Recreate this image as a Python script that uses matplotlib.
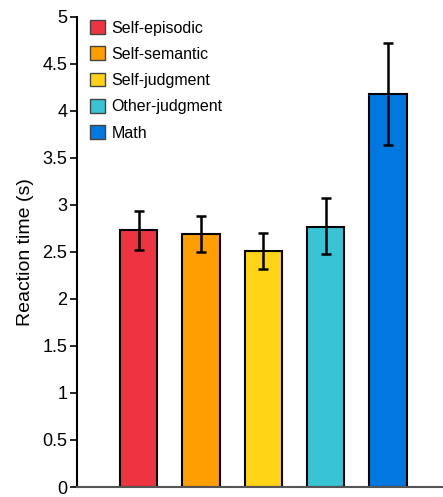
import numpy as np
import matplotlib
matplotlib.use("Agg")
import matplotlib.pyplot as plt
from matplotlib.patches import Patch

plt.rcParams['font.family'] = ['Liberation Sans', 'DejaVu Sans']

# данні
conditions = ['Self-episodic', 'Self-semantic', 'Self-judgment', 'Other-judgment', 'Math']
rt_mean = [2.73, 2.69, 2.51, 2.77, 4.18]
err_low = [2.52, 2.50, 2.32, 2.48, 3.64]
err_high = [2.94, 2.88, 2.70, 3.07, 4.72]
colors = ['#EE3440', '#FF9E00', '#FFD416', '#38C4D4', '#0078E0']

x = np.arange(len(conditions))
yerr = [np.array(rt_mean) - np.array(err_low), np.array(err_high) - np.array(rt_mean)]

fig = plt.figure(figsize=(4.43, 4.97), dpi=100)
ax = fig.add_axes([0.174, 0.0201, 0.826, 0.946])

ax.bar(x, rt_mean, width=0.6, color=colors, edgecolor='black', linewidth=1.5, zorder=2)
ax.errorbar(x, rt_mean, yerr=yerr, fmt='none', ecolor='black', elinewidth=1.8,
            capsize=3.5, capthick=1.8, zorder=3)

ax.set_xlim(-0.985, 4.88)
ax.set_ylim(0, 5)
ax.set_yticks(np.arange(0, 5.01, 0.5))
ax.set_yticklabels(['0', '0.5', '1', '1.5', '2', '2.5', '3', '3.5', '4', '4.5', '5'])
ax.set_xticks([])
ax.tick_params(axis='y', direction='out', length=5, width=1.2, labelsize=13, pad=2)
ax.set_ylabel('Reaction time (s)', fontsize=14, labelpad=6)

for s in ['top', 'right']:
    ax.spines[s].set_visible(False)
ax.spines['left'].set_linewidth(1.5)
ax.spines['bottom'].set_linewidth(1.5)
ax.spines['bottom'].set_color('#555555')

handles = [Patch(facecolor=c, edgecolor='#444444', linewidth=1.0) for c in colors]
ax.legend(handles, conditions, loc='upper left', bbox_to_anchor=(0.0, 1.02), frameon=False,
          fontsize=11.5, handlelength=0.95, handleheight=0.95, handletextpad=0.4,
          labelspacing=0.68, borderaxespad=0.4)

plt.savefig('out.png', dpi=100)
